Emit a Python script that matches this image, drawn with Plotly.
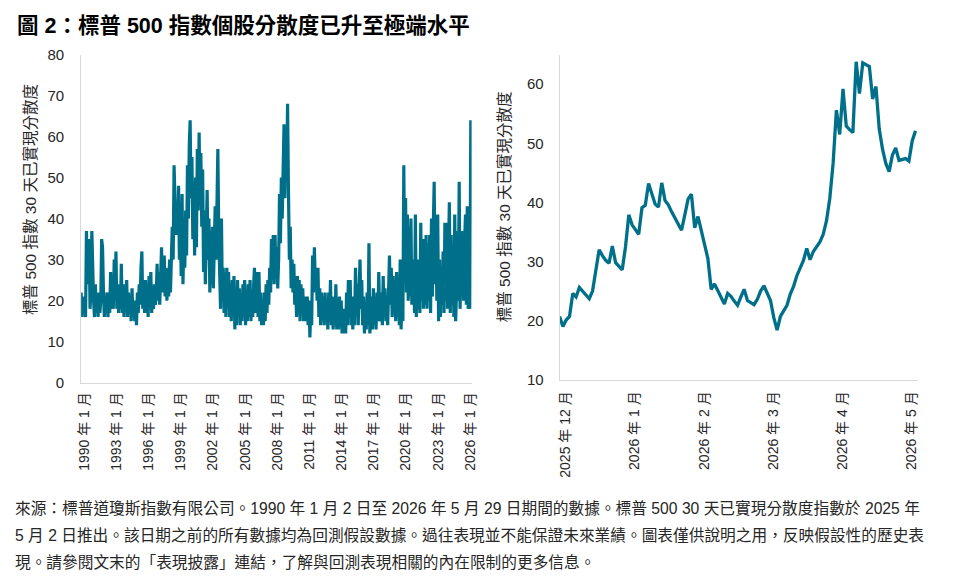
import pandas as pd
import plotly.graph_objects as go

W, H = 964, 577

title_text = "圖 2：標普 500 指數個股分散度已升至極端水平"
y_title = "標普 500 指數 30 天已實現分散度"

# Left panel: monthly readings, Jan 1990 .. May 2026
left_start = "1990-01-01"
left_values = [
    22, 16, 21, 17, 20, 16, 37, 24, 30, 35, 18, 23,  # 1990
    37, 26, 20, 16, 24, 17, 21, 16, 22, 17, 20, 35,  # 1991
    33, 22, 16, 21, 17, 22, 16, 20, 17, 27, 18, 24,  # 1992
    18, 30, 20, 32, 18, 24, 17, 22, 18, 29, 17, 23,  # 1993
    16, 24, 18, 25, 16, 22, 17, 21, 15, 23, 16, 20,  # 1994
    15, 20, 14, 22, 17, 24, 19, 28, 32, 18, 23, 17,  # 1995
    25, 17, 23, 16, 26, 18, 27, 17, 22, 18, 24, 19,  # 1996
    21, 29, 20, 27, 19, 26, 33, 22, 28, 31, 21, 28,  # 1997
    20, 27, 21, 30, 22, 32, 38, 30, 53, 45, 36, 41,  # 1998
    36, 48, 30, 40, 26, 46, 24, 35, 28, 42, 31, 53,  # 1999
    40, 58, 64, 45, 55, 35, 48, 31, 50, 33, 57, 42,  # 2000
    61, 44, 56, 38, 52, 27, 42, 24, 38, 47, 30, 40,  # 2001
    22, 37, 24, 38, 23, 35, 43, 30, 45, 57, 36, 26,  # 2002
    18, 40, 22, 28, 17, 27, 16, 28, 19, 27, 16, 24,  # 2003
    15, 25, 17, 26, 13, 22, 14, 25, 16, 23, 14, 21,  # 2004
    15, 24, 16, 25, 14, 22, 15, 24, 16, 25, 15, 22,  # 2005
    16, 24, 28, 17, 23, 27, 16, 27, 15, 22, 14, 20,  # 2006
    14, 22, 15, 24, 17, 25, 19, 28, 22, 35, 25, 36,  # 2007
    24, 36, 26, 33, 23, 30, 46, 34, 50, 40, 52, 63,  # 2008
    45, 62, 50, 68, 47, 30, 38, 23, 30, 22, 29, 19,  # 2009
    24, 16, 26, 17, 25, 15, 24, 17, 23, 15, 21, 16,  # 2010
    15, 21, 14, 20, 11, 18, 14, 31, 22, 33, 24, 28,  # 2011
    20, 28, 16, 23, 14, 22, 15, 21, 14, 22, 15, 20,  # 2012
    13, 22, 15, 25, 14, 21, 13, 19, 14, 24, 13, 20,  # 2013
    13, 21, 14, 20, 12, 18, 12, 17, 12, 22, 14, 25,  # 2014
    16, 25, 14, 21, 13, 20, 14, 28, 18, 24, 14, 22,  # 2015
    30, 18, 25, 14, 21, 12, 19, 13, 22, 14, 34, 12,  # 2016
    15, 21, 13, 23, 14, 21, 13, 22, 15, 27, 16, 15,  # 2017
    22, 14, 26, 16, 23, 15, 21, 14, 24, 31, 19, 28,  # 2018
    16, 26, 17, 25, 15, 27, 16, 24, 14, 30, 13, 22,  # 2019
    15, 53, 28, 45, 22, 41, 20, 38, 21, 40, 19, 30,  # 2020
    25, 17, 41, 16, 30, 18, 28, 17, 39, 20, 35, 18,  # 2021
    35, 19, 36, 18, 34, 20, 36, 17, 40, 21, 38, 49,  # 2022
    24, 38, 20, 41, 15, 30, 16, 28, 19, 32, 17, 39,  # 2023
    20, 39, 18, 31, 44, 17, 36, 19, 33, 16, 41, 15,  # 2024
    22, 37, 20, 49, 18, 28, 21, 37, 20, 34, 41, 19,  # 2025
    43, 18, 25, 18, 64,                              # 2026
]
left_end = "2026-05-29"
left_tick_dates = ["1990-01-01", "1993-01-01", "1996-01-01", "1999-01-01", "2002-01-01",
                   "2005-01-01", "2008-01-01", "2011-01-01", "2014-01-01", "2017-01-01",
                   "2020-01-01", "2023-01-01", "2026-01-01"]
left_tick_text = ["1990 年 1 月", "1993 年 1 月", "1996 年 1 月", "1999 年 1 月", "2002 年 1 月",
                  "2005 年 1 月", "2008 年 1 月", "2011 年 1 月", "2014 年 1 月", "2017 年 1 月",
                  "2020 年 1 月", "2023 年 1 月", "2026 年 1 月"]
left_y_ticks = [0, 10, 20, 30, 40, 50, 60, 70, 80]

# Right panel: daily (trading-day) readings, Dec 2025 .. May 2026
right_values = [
    20.7, 19.0, 20.1, 20.7, 24.6, 24.0, 25.6, 24.9, 24.2, 23.7,
    25.0, 29.0, 32.0, 31.0, 30.2, 29.7, 32.6, 29.8, 29.1, 28.6,
    32.5, 37.9, 36.2, 35.4, 34.6, 39.1, 39.5, 43.2, 41.2, 39.7,
    39.2, 43.3, 40.3, 39.6, 38.4, 37.3, 36.3, 35.3, 37.9, 40.6,
    41.4, 35.7, 37.6, 35.3, 32.8, 30.5, 25.3, 26.2, 25.1, 23.8,
    22.8, 24.6, 24.1, 23.3, 22.6, 24.0, 25.3, 23.4, 23.1, 22.7,
    23.6, 25.0, 25.9, 24.7, 23.4, 20.5, 18.4, 20.7, 21.6, 22.6,
    24.5, 25.8, 27.6, 29.1, 30.2, 32.2, 30.3, 31.7, 32.6, 33.3,
    34.6, 36.9, 40.7, 46.6, 55.6, 51.5, 59.2, 52.9, 52.3, 51.8,
    63.8, 58.4, 63.6, 63.3, 63.0, 57.5, 59.6, 52.4, 49.0, 46.6,
    45.2, 48.0, 49.2, 47.1, 47.2, 47.4, 47.0, 50.4, 52.1,
]
right_days_per_month = 21
right_tick_text = ["2025 年 12 月", "2026 年 1 月", "2026 年 2 月", "2026 年 3 月", "2026 年 4 月", "2026 年 5 月"]
right_y_ticks = [10, 20, 30, 40, 50, 60]

footnote_lines = [
    "來源：標普道瓊斯指數有限公司。1990 年 1 月 2 日至 2026 年 5 月 29 日期間的數據。標普 500 30 天已實現分散度指數於 2025 年",
    "5 月 2 日推出。該日期之前的所有數據均為回測假設數據。過往表現並不能保證未來業績。圖表僅供說明之用，反映假設性的歷史表",
    "現。請參閱文末的「表現披露」連結，了解與回測表現相關的內在限制的更多信息。",
]

LINE = "#00708a"
AXIS = "#d9d9d9"
TXT = "#262626"
FONT = "Liberation Sans, Arial, Noto Sans CJK TC, sans-serif"

left_dates = pd.date_range(left_start, periods=len(left_values), freq="MS")
right_x = list(range(len(right_values)))
right_tick_vals = [i * right_days_per_month for i in range(len(right_tick_text))]


def px_x(p):
    return p / W


def px_y(p):
    return 1 - p / H


fig = go.Figure()
fig.add_trace(go.Scatter(x=left_dates, y=left_values, mode="lines",
                         line=dict(color=LINE, width=3.2), xaxis="x", yaxis="y",
                         showlegend=False, hoverinfo="skip"))
fig.add_trace(go.Scatter(x=right_x, y=right_values, mode="lines",
                         line=dict(color=LINE, width=3.3), xaxis="x2", yaxis="y2",
                         showlegend=False, hoverinfo="skip"))

common_axis = dict(showgrid=False, zeroline=False, showline=True, linecolor=AXIS,
                   linewidth=1, ticks="", tickfont=dict(family=FONT, size=14, color=TXT))

fig.update_layout(
    width=W, height=H,
    margin=dict(l=0, r=0, t=0, b=0),
    paper_bgcolor="white", plot_bgcolor="white",
    font=dict(family=FONT, color=TXT),
    xaxis=dict(common_axis, domain=[px_x(77), px_x(472)], anchor="y",
               type="date", range=[left_start, left_end],
               tickvals=left_tick_dates, ticktext=left_tick_text, tickangle=-90,
               ticklabelshift=3, ticklabelstandoff=3),
    yaxis=dict(common_axis, domain=[px_y(385), px_y(47)], anchor="x",
               range=[0, 80], tickvals=left_y_ticks,
               tickfont=dict(family=FONT, size=15, color=TXT), ticklabelstandoff=13),
    xaxis2=dict(common_axis, domain=[px_x(561), px_x(924)], anchor="y2",
                range=[0, 108.9], tickvals=right_tick_vals, ticktext=right_tick_text,
                tickangle=-90, ticklabelshift=6, ticklabelstandoff=5),
    yaxis2=dict(common_axis, domain=[px_y(382), px_y(47)], anchor="x2",
                range=[10, 65], tickvals=right_y_ticks,
                tickfont=dict(family=FONT, size=15, color=TXT), ticklabelstandoff=12),
)

annotations = [
    dict(text="<b>" + title_text + "</b>", x=px_x(10), y=px_y(18), xref="paper", yref="paper",
         xanchor="left", yanchor="middle", showarrow=False,
         font=dict(family=FONT, size=21.5, color="#000000")),
    dict(text=y_title, x=px_x(26), y=px_y(196), xref="paper", yref="paper",
         xanchor="center", yanchor="middle", textangle=-90, showarrow=False,
         font=dict(family=FONT, size=15.5, color=TXT)),
    dict(text=y_title, x=px_x(505), y=px_y(204), xref="paper", yref="paper",
         xanchor="center", yanchor="middle", textangle=-90, showarrow=False,
         font=dict(family=FONT, size=15.5, color=TXT)),
]
for i, line in enumerate(footnote_lines):
    annotations.append(dict(text=line, x=px_x(8), y=px_y(514 + 28 * i), xref="paper", yref="paper",
                            xanchor="left", yanchor="middle", showarrow=False,
                            font=dict(family=FONT, size=15.7, color=TXT)))
fig.update_layout(annotations=annotations)

fig.write_html("out.html")
